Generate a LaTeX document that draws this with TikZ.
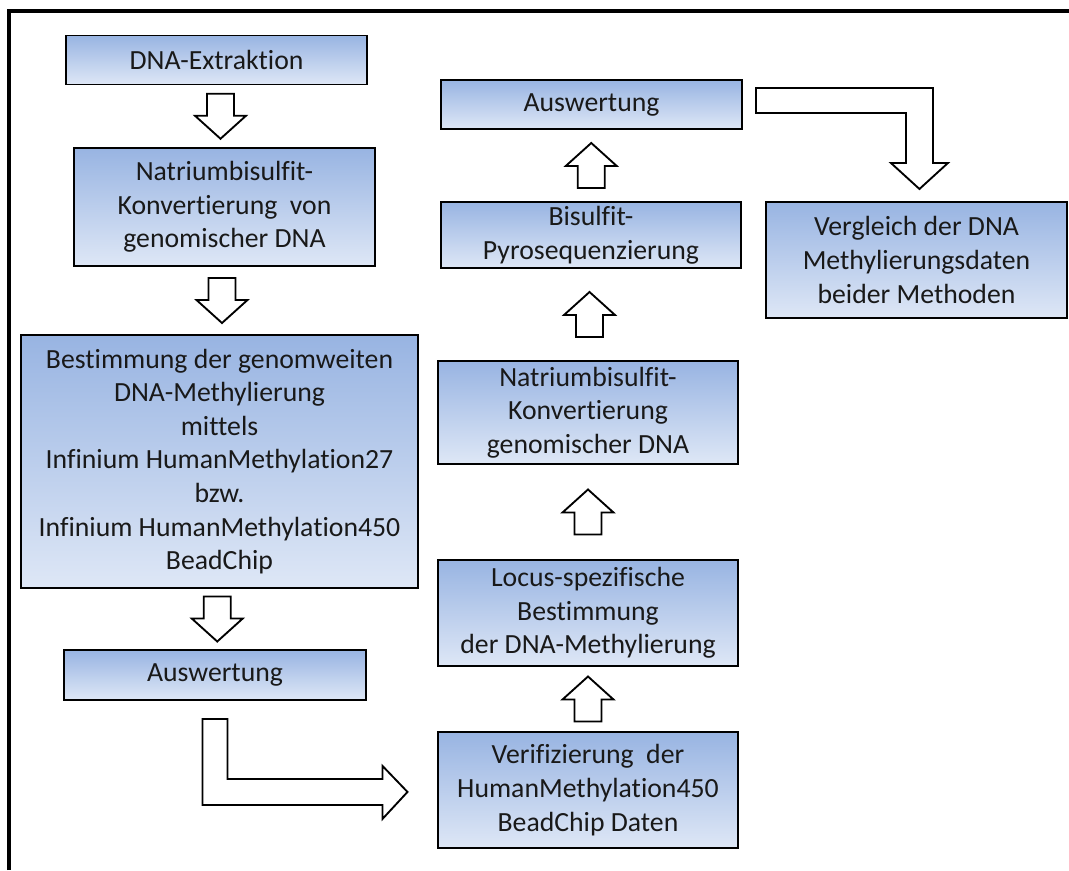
\documentclass[tikz,border=0pt]{standalone}
\usepackage{fontspec}
\setmainfont{Carlito}[Ligatures=NoCommon]
\usepackage{tikz}
\usetikzlibrary{calc}
\usepackage{xcolor}
\definecolor{boxtop}{RGB}{152,180,226}
\definecolor{boxbot}{RGB}{222,231,246}
\definecolor{boxtext}{RGB}{25,25,25}
\tikzstyle{stepbox} = [rectangle, inner sep=0pt, align=center, draw=black, line width=1.4pt, top color=boxtop, bottom color=boxbot, text=boxtext, font=\fontsize{20.8}{25.2}\selectfont]
\tikzstyle{blockarrow} = [draw=black, fill=white, line width=1.4pt, line join=miter]
% block arrows centred at a point
\newcommand{\flowdown}[1]{\draw[blockarrow] ($(#1)+(-13.5,-22.5)$) -- ++(27,0) -- ++(0,22) -- ++(12,0) -- ++(-25.5,23) -- ++(-25.5,-23) -- ++(12,0) -- cycle;}
\newcommand{\flowup}[1]{\draw[blockarrow] ($(#1)+(-13.5,22.5)$) -- ++(27,0) -- ++(0,-22) -- ++(12,0) -- ++(-25.5,-23) -- ++(-25.5,23) -- ++(12,0) -- cycle;}

\begin{document}
\begin{tikzpicture}[x=0.75pt, y=-0.75pt]
\useasboundingbox (0,0) rectangle (1069,870);
% Frame
\draw[line width=3pt] (9,870) -- (9,11) -- (1069,11);

% Left column
\node[stepbox, minimum width=225.75pt, minimum height=36.75pt] (extr) at (216.5,60) {DNA-Extraktion};
\node[stepbox, minimum width=225.75pt, minimum height=88.5pt] (konv) at (224.5,207) {Natriumbisulfit-\\Konvertierung\ \ von\\genomischer DNA};
\node[stepbox, minimum width=297.75pt, minimum height=189.75pt] (best) at (219.5,461.5) {Bestimmung der genomweiten\\DNA-Methylierung\\mittels\\Infinium HumanMethylation27\\bzw.\\Infinium HumanMethylation450\\BeadChip};
\node[stepbox, minimum width=226.5pt, minimum height=37.5pt] (auswL) at (215,675) {Auswertung};

% Right column
\node[stepbox, minimum width=225pt, minimum height=87pt] (verif) at (588,790) {Verifizierung\ \ der\\HumanMethylation450\\BeadChip Daten};
\node[stepbox, minimum width=225pt, minimum height=79.5pt] (locus) at (588,613) {Locus-spezifische\\Bestimmung\\der DNA-Methylierung};
\node[stepbox, minimum width=225pt, minimum height=77.25pt] (natr) at (588,412.5) {Natriumbisulfit-\\Konvertierung\\genomischer DNA};
\node[stepbox, minimum width=225pt, minimum height=49.5pt] (pyro) at (591,235) {Bisulfit-\\Pyrosequenzierung};
\node[stepbox, minimum width=225.75pt, minimum height=36.75pt] (auswR) at (591.5,104.5) {Auswertung};
\node[stepbox, minimum width=225.75pt, minimum height=87pt] (vergl) at (916.5,260) {Vergleich der DNA\\Methylierungsdaten\\beider Methoden};

% Flows down the left column
\flowdown{$(extr.south)!0.5!(konv.north)$}
\flowdown{$(konv.south)!0.5!(best.north)$}
\flowdown{$(best.south)!0.5!(auswL.north)$}

% Flows up the right column
\flowup{$(verif.north)!0.5!(locus.south)$}
\flowup{$(locus.north)!0.5!(natr.south)$}
\flowup{$(natr.north)!0.5!(pyro.south)$}
\flowup{$(pyro.north)!0.5!(auswR.south)$}

% Bent arrows
\draw[blockarrow] ($(auswL.south)+(-12.5,18)$) -- ++(25,0) -- ++(0,60) -- ++(155,0) -- ++(0,-13) -- ++(25,26) -- ++(-25,27) -- ++(0,-14) -- ++(-180,0) -- cycle;
\draw[blockarrow] ($(auswR.east)+(13,-16.5)$) -- ++(177,0) -- ++(0,75) -- ++(15,0) -- ++(-28.5,26) -- ++(-28.5,-26) -- ++(15,0) -- ++(0,-50) -- ++(-150,0) -- cycle;
\end{tikzpicture}
\end{document}
